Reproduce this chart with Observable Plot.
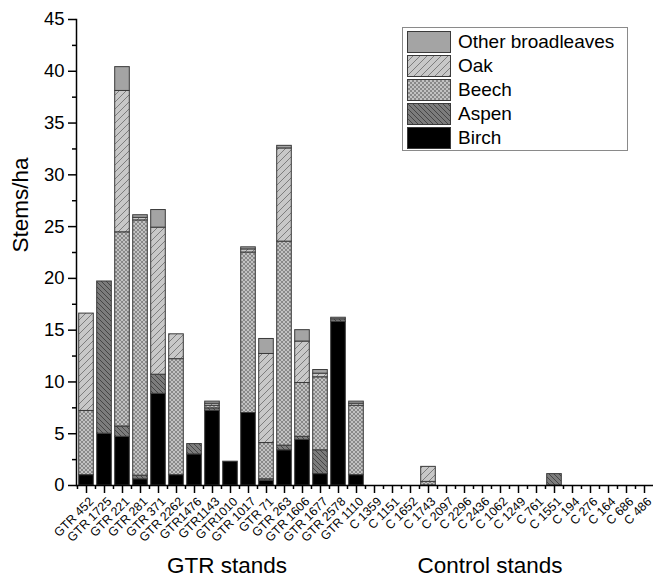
<!DOCTYPE html>
<html>
<head>
<meta charset="utf-8">
<script src="https://cdn.jsdelivr.net/npm/d3@7"></script>
<script src="https://cdn.jsdelivr.net/npm/@observablehq/plot@0.6"></script>
<style>
  body { margin: 0; background: #fff; font-family: "Liberation Sans", Arial, sans-serif; }
  #wrap { position: relative; width: 653px; height: 579px; }
  .legend { position: absolute; left: 402px; top: 27px; width: 226px; height: 124px; border: 1px solid #8a8a8a; background: #fff; box-sizing: border-box; }
  .row { position: absolute; left: 4px; height: 22px; display: flex; align-items: center; }
  .row span { margin-left: 7px; font-size: 19px; color: #000; }
  .grp { position: absolute; top: 553px; font-size: 22.5px; color: #000; transform: translateX(-50%); white-space: nowrap; }
</style>
</head>
<body>
<svg width="0" height="0" style="position:absolute">
  <defs>
    <pattern id="p-oak" patternUnits="userSpaceOnUse" width="7" height="7">
      <rect width="7" height="7" fill="#c8c8c8"/>
      <path d="M-1,1 L1,-1 M0,7 L7,0 M6,8 L8,6" stroke="#6a6a6a" stroke-width="0.8"/>
    </pattern>
    <pattern id="p-beech" patternUnits="userSpaceOnUse" width="4" height="4">
      <rect width="4" height="4" fill="#c2c2c2"/>
      <path d="M0,0 L4,4 M4,0 L0,4" stroke="#707070" stroke-width="0.7"/>
    </pattern>
    <pattern id="p-aspen" patternUnits="userSpaceOnUse" width="5" height="5">
      <rect width="5" height="5" fill="#7c7c7c"/>
      <path d="M-1,4 L1,6 M0,0 L5,5 M4,-1 L6,1" stroke="#3e3e3e" stroke-width="0.9"/>
    </pattern>
  </defs>
</svg>
<div id="wrap"></div>
<script>
const stands = ["GTR 452","GTR 1725","GTR 221","GTR 281","GTR 371","GTR 2262","GTR1476","GTR1143","GTR1010","GTR 1017","GTR 71","GTR 263","GTR 1606","GTR 1677","GTR 2578","GTR 1110",
  "C 1359","C 1151","C 1652","C 1743","C 2097","C 2296","C 2436","C 1062","C 1249","C 761","C 1551","C 194","C 276","C 164","C 686","C 486"];
const species = ["Birch","Aspen","Beech","Oak","Other broadleaves"];
const birch = [1.0,5.0,4.7,0.6,8.85,1.0,3.0,7.2,2.3,7.0,0.45,3.4,4.4,1.1,15.8,1.0, 0,0,0,0,0,0,0,0,0,0,0,0,0,0,0,0];
const aspen = [0,14.7,1.0,0.35,1.85,0,1.0,0.25,0,0,0.15,0.45,0.3,2.3,0.25,0, 0,0,0,0,0,0,0,0,0,0,1.1,0,0,0,0,0];
const beech = [6.2,0,18.75,24.65,0,11.2,0,0.25,0,15.5,3.5,19.7,5.2,7.05,0,6.7, 0,0,0,0.35,0,0,0,0,0,0,0,0,0,0,0,0];
const oak   = [9.4,0,13.65,0.25,14.2,2.4,0,0.2,0,0.3,8.6,9.0,4.0,0.35,0,0.2, 0,0,0,1.45,0,0,0,0,0,0,0,0,0,0,0,0];
const other = [0,0,2.3,0.25,1.7,0,0,0.2,0,0.2,1.45,0.25,1.1,0.35,0.15,0.2, 0,0,0,0,0,0,0,0,0,0,0,0,0,0,0,0];
const yTicks = [0,5,10,15,20,25,30,35,40,45];
const groups = ["GTR stands","Control stands"];

const fills = {"Birch":"#000","Aspen":"url(#p-aspen)","Beech":"url(#p-beech)","Oak":"url(#p-oak)","Other broadleaves":"#a4a4a4"};
const series = [birch, aspen, beech, oak, other];
const rows = [];
species.forEach((s, k) => stands.forEach((st, i) => { if (series[k][i] > 0) rows.push({stand: st, species: s, value: series[k][i]}); }));

const width = 653, height = 579, mL = 76, mR = 0;
const step = (width - mL - mR) / stands.length;

const chart = Plot.plot({
  width, height,
  marginLeft: mL, marginRight: mR, marginTop: 19, marginBottom: 94,
  style: {fontFamily: '"Liberation Sans", Arial, sans-serif', color: "#000", background: "#fff", overflow: "visible"},
  x: {domain: stands, padding: 0, label: null},
  y: {domain: [0, 45], label: null},
  color: {domain: species, range: species.map(s => fills[s])},
  marks: [
    Plot.barY(rows, {x: "stand", y: "value", fill: "species", stroke: "#3a3a3a", strokeWidth: 1, insetLeft: 1.7, insetRight: 1.7}),
    Plot.ruleY([0], {stroke: "#000", strokeWidth: 1.5}),
    Plot.frame({anchor: "left", stroke: "#000", strokeWidth: 1.5}),
    Plot.axisY({ticks: yTicks, tickSize: 8, tickPadding: 4, fontSize: 18.5, label: null, strokeWidth: 1.5}),
    Plot.axisY({ticks: yTicks.slice(0, -1).map(t => t + 2.5), tickSize: 4, tickFormat: () => "", label: null, strokeWidth: 1.5}),
    Plot.axisX({ticks: stands, tickSize: 8, strokeWidth: 1.5, text: null, label: null}),
    Plot.axisX({ticks: stands, tickSize: 8, tickPadding: 4, tickRotate: -45, fontSize: 12.3, label: null, dx: 5, dy: 2, tick: null, strokeWidth: 0}),
    Plot.axisX({ticks: stands, tickSize: 4, tickFormat: () => "", label: null, dx: -step / 2, strokeWidth: 1.5}),
    Plot.text(["Stems/ha"], {frameAnchor: "left", text: d => d, rotate: -90, dx: -56, fontSize: 22.5})
  ]
});
const wrap = document.getElementById("wrap");
wrap.appendChild(chart);

// Legend
const legend = document.createElement("div");
legend.className = "legend";
[...species].reverse().forEach((s, i) => {
  const row = document.createElement("div");
  row.className = "row";
  row.style.top = (3 + i * 24) + "px";
  row.innerHTML = `<svg width="44" height="22"><rect x="0.5" y="0.5" width="43" height="21" fill="${fills[s]}" stroke="#3a3a3a"/></svg><span>${s}</span>`;
  legend.appendChild(row);
});
wrap.appendChild(legend);

// Group labels
const gx = [227, 490];
groups.forEach((g, i) => {
  const d = document.createElement("div");
  d.className = "grp";
  d.style.left = gx[i] + "px";
  d.textContent = g;
  wrap.appendChild(d);
});
</script>
</body>
</html>
